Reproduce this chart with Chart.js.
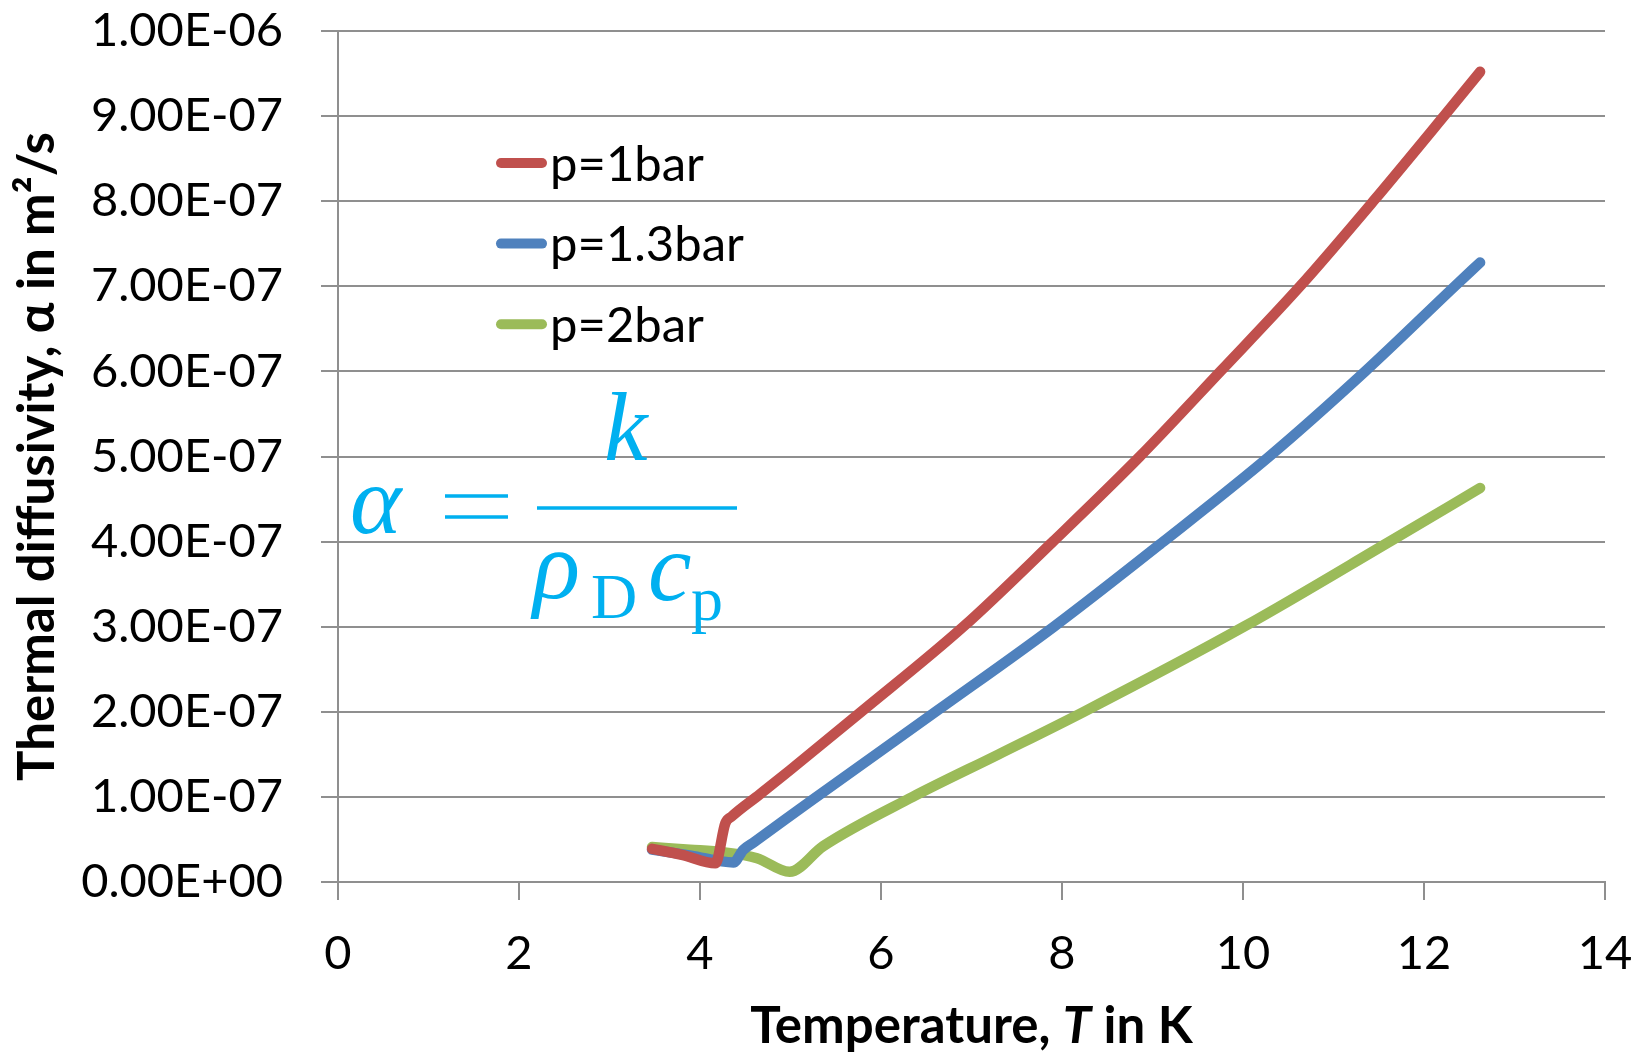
<!DOCTYPE html>
<html>
<head>
<meta charset="utf-8">
<script src="https://cdn.jsdelivr.net/npm/chart.js@4.4.0/dist/chart.umd.min.js"></script>
<style>
  html, body { margin: 0; padding: 0; background: #fff; }
  #wrap { width: 1645px; height: 1054px; }
</style>
</head>
<body>
<div id="wrap"><canvas id="chart" width="1645" height="1054"></canvas></div>
<script>
// =========================
// Data
// =========================

const temp1bar = [3.47, 3.8, 4.17, 4.28, 4.35, 4.66, 4.99, 5.77, 6.91, 7.9, 8.86, 9.75, 10.63, 11.44, 12.22, 12.62];
const alpha1bar = [0.39e-7, 0.32e-7, 0.22e-7, 0.69e-7, 0.77e-7, 1.03e-7, 1.31e-7, 1.99e-7, 3.0e-7, 4.0e-7, 5.0e-7, 6.0e-7, 7.0e-7, 8.0e-7, 9.0e-7, 9.52e-7];

const temp13bar = [3.47, 3.9, 4.37, 4.48, 4.6, 5.22, 6.63, 7.91, 9.12, 10.29, 11.35, 12.34, 12.62];
const alpha13bar = [0.38e-7, 0.31e-7, 0.23e-7, 0.38e-7, 0.47e-7, 0.95e-7, 2.02e-7, 3.0e-7, 4.0e-7, 5.0e-7, 6.0e-7, 7.0e-7, 7.28e-7];

const temp2bar = [3.47, 3.89, 4.26, 4.63, 4.99, 5.36, 6.35, 7.3, 8.24, 10.01, 11.62, 12.62];
const alpha2bar = [0.41e-7, 0.38e-7, 0.35e-7, 0.28e-7, 0.12e-7, 0.42e-7, 1.0e-7, 1.5e-7, 2.0e-7, 3.0e-7, 4.0e-7, 4.63e-7];

const seriesLabels = ["p=1bar", "p=1.3bar", "p=2bar"];
const seriesColors = ["#C0504D", "#4F81BD", "#9BBB59"];

const xTicks = [0, 2, 4, 6, 8, 10, 12, 14];
const yTicks = [0, 1e-7, 2e-7, 3e-7, 4e-7, 5e-7, 6e-7, 7e-7, 8e-7, 9e-7, 1e-6];

const xTitle = ["Temperature, ", "T", " in K"];
const yTitle = "Thermal diffusivity, \u03B1 in m\u00B2/s";

// =========================
// Helpers
// =========================

const FONT = "Lato, 'Open Sans', sans-serif";
const GRID = "#8f8f8f";

function sciLabel(v) {
  if (v === 0) return "0.00E+00";
  const parts = v.toExponential(2).split("e");
  const n = parseInt(parts[1], 10);
  return parts[0] + "E" + (n < 0 ? "-" : "+") + String(Math.abs(n)).padStart(2, "0");
}

function toPoints(xs, ys) {
  return xs.map((x, i) => ({ x, y: ys[i] }));
}

// keep the plot box where the figure has it
function noOverhang(scale) {
  scale.paddingTop = 0;
  scale.paddingBottom = 0;
  scale.paddingLeft = 0;
  scale.paddingRight = 0;
}

// titles, legend and the formula
const decorations = {
  id: "decorations",
  afterDraw(chart) {
    const { ctx, chartArea } = chart;
    ctx.save();
    ctx.fillStyle = "#000";

    // x title with italic T
    ctx.textBaseline = "alphabetic";
    ctx.textAlign = "left";
    const fonts = ["bold 51px " + FONT, "italic bold 51px " + FONT, "bold 51px " + FONT];
    let total = 0;
    xTitle.forEach((s, i) => { ctx.font = fonts[i]; total += ctx.measureText(s).width; });
    let x = (chartArea.left + chartArea.right) / 2 - total / 2;
    xTitle.forEach((s, i) => {
      ctx.font = fonts[i];
      ctx.fillText(s, x, 1043);
      x += ctx.measureText(s).width;
    });

    // y title
    ctx.save();
    ctx.translate(54, (chartArea.top + chartArea.bottom) / 2);
    ctx.rotate(-Math.PI / 2);
    ctx.font = "bold 51px " + FONT;
    ctx.textAlign = "center";
    ctx.fillText(yTitle, 0, 0);
    ctx.restore();

    // legend
    ctx.font = "49px " + FONT;
    ctx.textAlign = "left";
    ctx.textBaseline = "middle";
    chart.data.datasets.forEach((ds, i) => {
      const y = 163 + i * 80.6;
      ctx.strokeStyle = ds.borderColor;
      ctx.lineWidth = 10;
      ctx.lineCap = "round";
      ctx.beginPath();
      ctx.moveTo(501, y);
      ctx.lineTo(542, y);
      ctx.stroke();
      ctx.fillText(ds.label, 550, y + 2);
    });

    // formula  alpha = k / (rho_D c_p)
    const serif = "'Liberation Serif', 'DejaVu Serif', serif";
    ctx.fillStyle = "#00B0F0";
    ctx.strokeStyle = "#00B0F0";
    ctx.textBaseline = "alphabetic";
    ctx.font = "italic 98px " + serif;
    ctx.fillText("\u03B1", 350, 533);
    ctx.fillText("k", 604, 460);
    ctx.fillText("\u03C1", 533, 598);
    ctx.fillText("c", 648, 600);
    ctx.font = "64px " + serif;
    ctx.fillText("D", 591, 618);
    ctx.fillText("p", 691, 620);
    ctx.lineWidth = 3.5;
    ctx.lineCap = "butt";
    ctx.beginPath();
    ctx.moveTo(445, 496); ctx.lineTo(508, 496);
    ctx.moveTo(445, 517); ctx.lineTo(508, 517);
    ctx.moveTo(537, 508); ctx.lineTo(737, 508);
    ctx.stroke();

    ctx.restore();
  },
};

// =========================
// Chart
// =========================

const datasets = [
  [temp1bar, alpha1bar],
  [temp13bar, alpha13bar],
  [temp2bar, alpha2bar],
].map(([xs, ys], i) => ({
  label: seriesLabels[i],
  data: toPoints(xs, ys),
  borderColor: seriesColors[i],
  backgroundColor: seriesColors[i],
  borderWidth: 10.5,
  borderCapStyle: "round",
  borderJoinStyle: "round",
  pointRadius: 0,
  cubicInterpolationMode: "monotone",
  fill: false,
  clip: false,
}));

new Chart(document.getElementById("chart"), {
  type: "line",
  data: { datasets },
  options: {
    responsive: false,
    animation: false,
    layout: { padding: { left: 0, top: 31, right: 40, bottom: 0 } },
    plugins: {
      legend: { display: false },
      tooltip: { enabled: false },
    },
    scales: {
      x: {
        type: "linear",
        min: 0,
        max: 14,
        afterBuildTicks: (scale) => { scale.ticks = xTicks.map((v) => ({ value: v })); },
        afterFit: (scale) => { scale.height = 172; noOverhang(scale); },
        grid: { drawOnChartArea: false, drawTicks: true, tickLength: 18, color: GRID, lineWidth: 2 },
        border: { display: true, color: GRID, width: 2 },
        ticks: { color: "#000", font: { family: FONT, size: 47 }, padding: 26, maxRotation: 0 },
      },
      y: {
        type: "linear",
        min: 0,
        max: 1e-6,
        afterBuildTicks: (scale) => { scale.ticks = yTicks.map((v) => ({ value: v })); },
        afterFit: (scale) => { scale.width = 338; noOverhang(scale); },
        grid: { drawTicks: true, tickLength: 17, color: GRID, lineWidth: 2 },
        border: { display: true, color: GRID, width: 2 },
        ticks: { color: "#000", font: { family: FONT, size: 47 }, padding: 38, callback: (v) => sciLabel(v) },
      },
    },
  },
  plugins: [decorations],
});
</script>
</body>
</html>
